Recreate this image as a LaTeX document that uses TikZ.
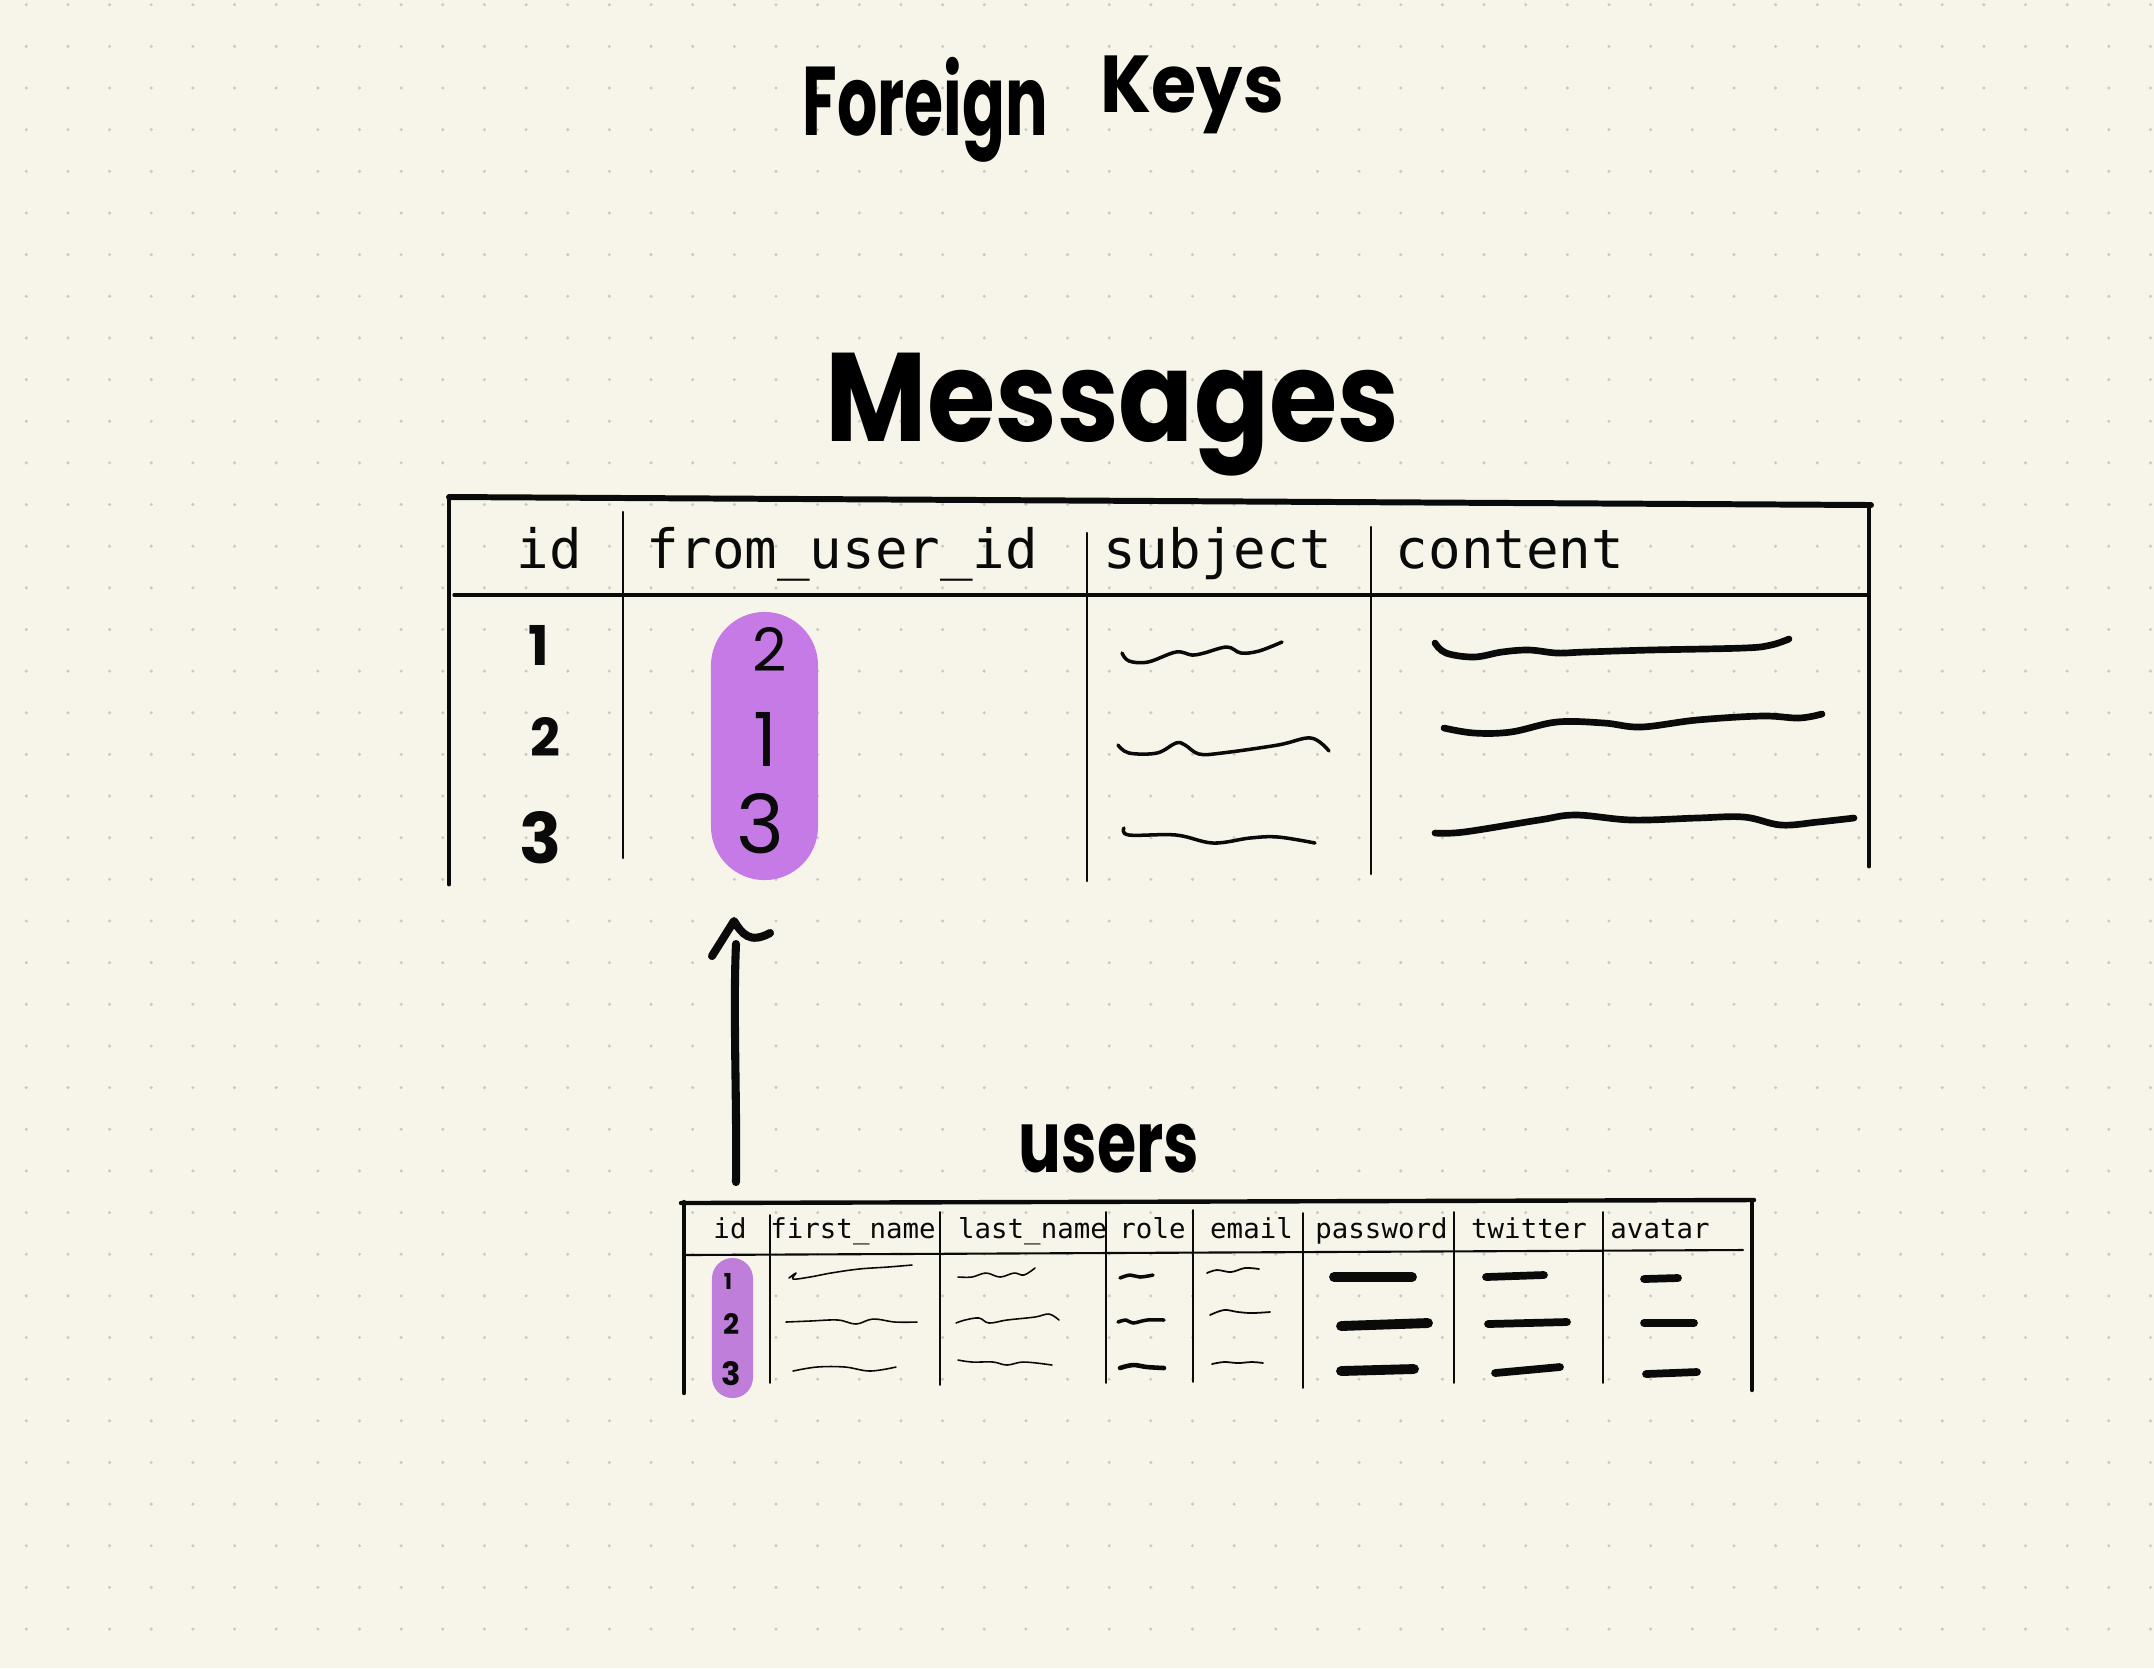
\documentclass[tikz,border=0pt]{standalone}
\usepackage{fontspec}
\usepackage{graphicx}
\newfontfamily\monofont{DejaVu Sans Mono}
\newfontfamily\handfont{Poppins}
\definecolor{paper}{HTML}{F7F5E9}
\definecolor{dotgrey}{HTML}{CBCAC2}
\definecolor{keypurple}{HTML}{C67AE6}
\definecolor{keypurplesoft}{HTML}{BE7ED9}
\definecolor{ink}{HTML}{0A0A0A}

\begin{document}
\begin{tikzpicture}[x=0.01cm,y=-0.01cm,
  rule/.style={draw=ink, line cap=round, line join=round},
  outerrule/.style={rule, line width=1.7pt},
  siderule/.style={rule, line width=1.4pt},
  headrule/.style={rule, line width=0.95pt},
  colrule/.style={rule, line width=0.7pt},
  smallouter/.style={rule, line width=1.25pt},
  smallhead/.style={rule, line width=0.6pt},
  smallcol/.style={rule, line width=0.45pt},
  scribble/.style={rule, line width=#1},
  scribble/.default=1pt,
  bigcell/.style={anchor=base, inner sep=0pt, text=ink,
    font=\monofont\fontsize{15.4pt}{18pt}\selectfont},
  smallcell/.style={anchor=base, inner sep=0pt, text=ink,
    font=\monofont\fontsize{7.8pt}{9pt}\selectfont},
  handnum/.style={inner sep=0pt, text=ink},
  pill/.style={inner sep=0pt, draw=none},
  arrowline/.style={rule, line width=2.3pt}
]
% paper and dot grid
\fill[paper] (0,0) rectangle (2154,1668);
\useasboundingbox (0,0) rectangle (2154,1668);
\foreach \i in {0,...,51}{
  \foreach \j in {0,...,39}{
    \fill[dotgrey] (26.3+41.65*\i, 4.7+41.65*\j) circle[radius=0.017cm];
  }
}

% titles
\node[anchor=north west, inner sep=0pt] (pagetitleA) at (802,57)
  {\resizebox*{2.45cm}{1.05cm}{\handfont\bfseries Foreign}};
\node[anchor=north west, inner sep=0pt] (pagetitleB) at (1100,55)
  {\resizebox*{1.83cm}{0.78cm}{\handfont\bfseries Keys}};
\node[anchor=north west, inner sep=0pt] (msgtitle) at (825,352)
  {\resizebox*{5.73cm}{1.23cm}{\handfont\bfseries Messages}};
\node[anchor=north west, inner sep=0pt] (usrtitle) at (1018,1123)
  {\resizebox*{1.8cm}{0.49cm}{\handfont\bfseries users}};

% ---------- messages table ----------
\node[pill, fill=keypurple, minimum width=1.07cm, minimum height=2.68cm,
  rounded corners=0.535cm] (fkcol) at (764.5,746) {};

\draw[outerrule] (449,497) -- (1871,505);
\draw[siderule] (449,499) -- (449,884);
\draw[siderule] (1869,505) -- (1869,866);
\draw[headrule] (454,595) -- (1868,595);
\draw[colrule] (623,512) -- (623,858);
\draw[colrule] (1087,533) -- (1087,881);
\draw[colrule] (1371,527) -- (1371,874);

\node[bigcell] (mhid) at (549.5,568) {id};
\node[bigcell] (mhfrom) at (842.5,568) {from\_user\_id};
\node[bigcell] (mhsubj) at (1217.5,568) {subject};
\node[bigcell] (mhcont) at (1510,568) {content};

\node[handnum] (mid1) at (539,645) {\resizebox{!}{0.40cm}{\handfont\bfseries 1}};
\node[handnum] (mid2) at (545,737) {\resizebox{!}{0.39cm}{\handfont\bfseries 2}};
\node[handnum] (mid3) at (541,838) {\resizebox{!}{0.52cm}{\handfont\bfseries 3}};

\node[handnum] (mfk1) at (770,649) {\resizebox{!}{0.44cm}{\handfont 2}};
\node[handnum] (mfk2) at (765,739) {\resizebox{!}{0.54cm}{\handfont 1}};
\node[handnum] (mfk3) at (760,824) {\resizebox{!}{0.60cm}{\handfont 3}};

% subject placeholders
\draw[scribble=1pt] plot[smooth, tension=0.6] coordinates {(1122,653) (1129,661) (1148,662) (1176,652) (1192,655) (1204,653) (1227,647) (1241,653) (1259,651) (1282,642)};
\draw[scribble=1pt] plot[smooth, tension=0.6] coordinates {(1118,745) (1129,753) (1157,753) (1176,743) (1185,745) (1199,754) (1222,753) (1278,745) (1311,738) (1329,751)};
\draw[scribble=1pt] plot[smooth, tension=0.6] coordinates {(1124,828) (1129,835) (1176,835) (1213,843) (1250,838) (1278,837) (1315,843)};
% content placeholders
\draw[scribble=1.9pt] plot[smooth, tension=0.6] coordinates {(1435,643) (1446,653) (1474,657) (1502,652) (1529,650) (1557,653) (1585,652) (1650,650) (1744,648) (1771,645) (1789,639)};
\draw[scribble=1.9pt] plot[smooth, tension=0.6] coordinates {(1444,728) (1474,733) (1511,732) (1557,722) (1604,723) (1641,727) (1697,720) (1762,716) (1799,718) (1822,714)};
\draw[scribble=1.9pt] plot[smooth, tension=0.6] coordinates {(1435,833) (1464,832) (1539,820) (1576,815) (1632,820) (1697,818) (1744,817) (1781,825) (1818,822) (1854,818)};

% ---------- users table ----------
\node[pill, fill=keypurplesoft, minimum width=0.41cm, minimum height=1.40cm,
  rounded corners=0.205cm] (pkcol) at (732.5,1328) {};

\draw[smallouter] (681,1203) -- (1754,1200);
\draw[smallouter] (684,1202) -- (684,1393);
\draw[smallouter] (1752,1201) -- (1752,1390);
\draw[smallhead] (684,1255) -- (1743,1250);
\draw[smallcol] (770,1215) -- (770,1383);
\draw[smallcol] (940,1212) -- (940,1385);
\draw[smallcol] (1106,1212) -- (1106,1383);
\draw[smallcol] (1193,1210) -- (1193,1382);
\draw[smallcol] (1303,1213) -- (1303,1388);
\draw[smallcol] (1454,1212) -- (1454,1383);
\draw[smallcol] (1603,1212) -- (1603,1383);

\node[smallcell] (uhid) at (730,1238) {id};
\node[smallcell] (uhfirst) at (853,1238) {first\_name};
\node[smallcell] (uhlast) at (1032.5,1238) {last\_name};
\node[smallcell] (uhrole) at (1152.5,1238) {role};
\node[smallcell] (uhemail) at (1251.5,1238) {email};
\node[smallcell] (uhpass) at (1381.5,1238) {password};
\node[smallcell] (uhtwit) at (1529,1238) {twitter};
\node[smallcell] (uhavat) at (1660,1238) {avatar};

\node[handnum] (uid1) at (728,1281) {\resizebox{!}{0.16cm}{\handfont\bfseries 1}};
\node[handnum] (uid2) at (732,1324) {\resizebox{!}{0.21cm}{\handfont\bfseries 2}};
\node[handnum] (uid3) at (731,1374) {\resizebox{!}{0.24cm}{\handfont\bfseries 3}};

% first_name
\draw[scribble=0.45pt] plot[smooth, tension=0.6] coordinates {(789,1278) (796,1273) (793,1279) (810,1277) (831,1273) (859,1269) (888,1267) (912,1265)};
\draw[scribble=0.45pt] plot[smooth, tension=0.6] coordinates {(786,1322) (810,1321) (838,1320) (856,1324) (873,1319) (895,1322) (917,1322)};
\draw[scribble=0.45pt] plot[smooth, tension=0.6] coordinates {(793,1371) (817,1367) (845,1367) (870,1371) (896,1367)};
% last_name
\draw[scribble=0.45pt] plot[smooth, tension=0.6] coordinates {(958,1277) (972,1277) (986,1273) (1000,1277) (1014,1273) (1024,1275) (1035,1268)};
\draw[scribble=0.45pt] plot[smooth, tension=0.6] coordinates {(956,1323) (965,1320) (979,1318) (989,1323) (1007,1320) (1035,1317) (1049,1314) (1059,1320)};
\draw[scribble=0.45pt] plot[smooth, tension=0.6] coordinates {(958,1360) (972,1362) (993,1362) (1007,1365) (1024,1362) (1052,1365)};
% role
\draw[scribble=1pt] plot[smooth, tension=0.6] coordinates {(1120,1278) (1130,1275) (1140,1277) (1153,1275)};
\draw[scribble=1pt] plot[smooth, tension=0.6] coordinates {(1118,1322) (1126,1320) (1133,1323) (1147,1320) (1164,1320)};
\draw[scribble=1.3pt] plot[smooth, tension=0.6] coordinates {(1120,1368) (1133,1365) (1147,1367) (1164,1368)};
% email
\draw[scribble=0.5pt] plot[smooth, tension=0.6] coordinates {(1207,1273) (1217,1270) (1231,1272) (1245,1268) (1259,1269)};
\draw[scribble=0.5pt] plot[smooth, tension=0.6] coordinates {(1210,1315) (1224,1310) (1238,1312) (1252,1313) (1270,1312)};
\draw[scribble=0.5pt] plot[smooth, tension=0.6] coordinates {(1212,1364) (1224,1362) (1238,1363) (1252,1362) (1263,1363)};
% password
\draw[scribble=2.8pt] (1334,1277) -- (1412,1277);
\draw[scribble=2.8pt] (1341,1326) -- (1428,1323);
\draw[scribble=2.8pt] (1341,1371) -- (1414,1369);
% twitter
\draw[scribble=2.2pt] (1486,1277) -- (1544,1275);
\draw[scribble=2.2pt] (1488,1324) -- (1567,1322);
\draw[scribble=2.2pt] (1495,1373) -- (1560,1367);
% avatar
\draw[scribble=2.2pt] (1644,1279) -- (1678,1278);
\draw[scribble=2.2pt] (1644,1323) -- (1694,1323);
\draw[scribble=2.2pt] (1646,1374) -- (1697,1372);

% ---------- reference arrow ----------
\coordinate (arrowfoot) at (736,1182);
\coordinate (arrowshaft) at (736,944);
\coordinate (arrowtip) at (734,921);
\draw[arrowline] (arrowfoot) .. controls (737,1100) and (733,1010) .. (arrowshaft);
\draw[arrowline] (712,956) -- (arrowtip) .. controls (742,934) and (750,944) .. (770,933);
\end{tikzpicture}
\end{document}
